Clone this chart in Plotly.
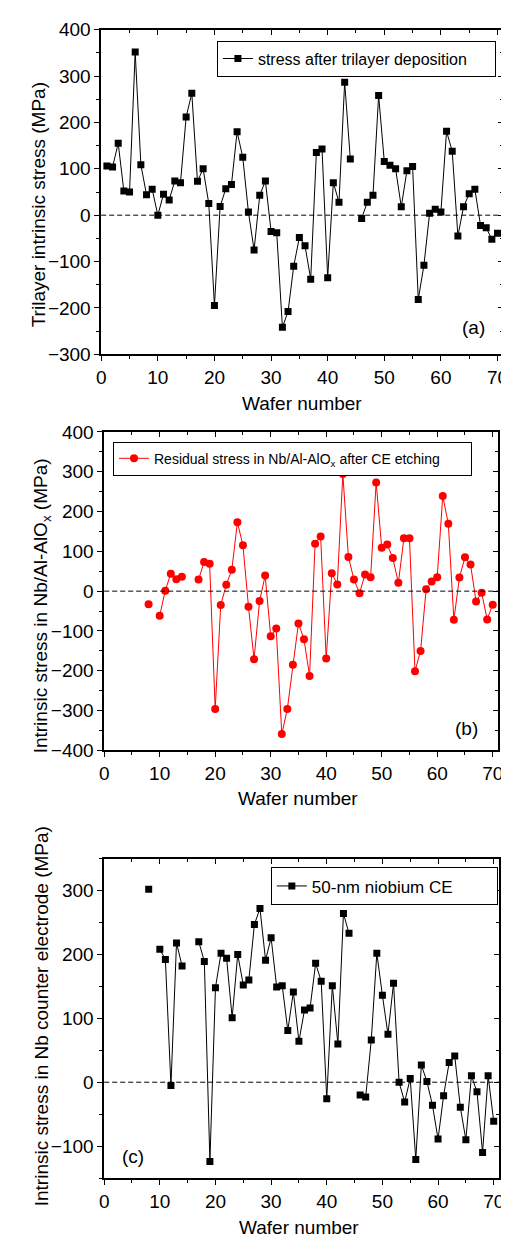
import plotly.graph_objects as go

W, H = 509, 1243
FONT = "Liberation Sans, Arial, sans-serif"

# ---------------- data ----------------
wafer = list(range(1, 71))

stress_trilayer = [106, 104, 155, 52, 50, 352, 109, 44, 56, 0,
                   45, 33, 74, 70, 212, 263, 73, 100, 25, -195,
                   19, 57, 66, 180, 125, 7, -75, 43, 74, -35,
                   -38, -242, -208, -110, -48, -66, -138, 135, 143, -135,
                   70, 28, 287, 121, None, -7, 28, 43, 258, 116,
                   108, 100, 18, 96, 105, -182, -108, 4, 13, 7,
                   181, 138, -45, 18, 46, 56, -22, -27, -52, -39]

stress_residual = [None, None, None, None, None, None, None, -33, None, -62,
                   1, 44, 30, 36, None, None, 29, 73, 69, -296,
                   -35, 16, 54, 173, 115, -39, -171, -25, 39, -113,
                   -94, -359, -296, -185, -81, -121, -213, 119, 137, -169,
                   45, 17, 294, 86, 29, -5, 42, 35, 273, 109,
                   117, 83, 21, 133, 133, -201, -150, 5, 24, 35,
                   239, 169, -72, 34, 85, 67, -26, -4, -71, -34]

stress_ce = [None, None, None, None, None, None, None, 302, None, 208,
             192, -5, 218, 182, None, None, 220, 189, -124, 148,
             202, 194, 101, 200, 152, 160, 247, 272, 191, 226,
             149, 151, 81, 141, 64, 113, 116, 186, 158, -26,
             151, 60, 264, 233, None, -20, -23, 66, 202, 136,
             75, 155, 0, -31, 6, -121, 27, 1, -36, -89,
             -21, 31, 41, -39, -90, 10, -15, -110, 10, -61]

x_ticks = [0, 10, 20, 30, 40, 50, 60, 70]
y_ticks_a = [-300, -200, -100, 0, 100, 200, 300, 400]
y_ticks_b = [-400, -300, -200, -100, 0, 100, 200, 300, 400]
y_ticks_c = [-100, 0, 100, 200, 300]

name_a = "stress after trilayer deposition"
name_b = "Residual stress in Nb/Al-AlO<sub>x</sub> after CE etching"
name_c = "50-nm niobium CE"
ytitle_a = "Trilayer intrinsic stress (MPa)"
ytitle_b = "Intrinsic stress in Nb/Al-AlO<sub>x</sub> (MPa)"
ytitle_c = "Intrinsic stress in Nb counter electrode (MPa)"
xtitle = "Wafer number"
labels = ["(a)", "(b)", "(c)"]

# ---------------- layout geometry (pixels) ----------------
panels = [
    dict(l=90, r=500, t=12, b=342, yr=[-300, 400], yt=y_ticks_a),
    dict(l=93, r=495, t=421, b=745, yr=[-400, 400], yt=y_ticks_b),
    dict(l=93, r=496, t=855, b=1180, yr=[-150, 350], yt=y_ticks_c),
]
XR = [0, 71]

fig = go.Figure()

series = [
    (stress_trilayer, name_a, "black", "square", 7, "legend"),
    (stress_residual, name_b, "red", "circle", 8, "legend2"),
    (stress_ce, name_c, "black", "square", 7, "legend3"),
]
for i, (vals, nm, col, sym, ms, lg) in enumerate(series):
    k = "" if i == 0 else str(i + 1)
    fig.add_trace(go.Scatter(
        x=wafer, y=vals, name=nm, mode="lines+markers",
        line=dict(color=col, width=1),
        marker=dict(symbol=sym, size=ms, color=col),
        connectgaps=False,
        xaxis="x" + k, yaxis="y" + k, legend=lg, showlegend=True,
    ))

axis_common = dict(showgrid=False, zeroline=False, color="black",
                   tickfont=dict(family=FONT, size=19, color="black"))

for i, p in enumerate(panels):
    k = "" if i == 0 else str(i + 1)
    ko = str(i + 4)
    xd = [p["l"] / W, p["r"] / W]
    yd = [1 - p["b"] / H, 1 - p["t"] / H]
    fig.layout["xaxis" + k] = dict(
        domain=xd, range=XR, anchor="y" + k, tickvals=x_ticks,
        ticks="outside", ticklen=5, tickwidth=1, tickcolor="black",
        minor=dict(tickvals=[5, 15, 25, 35, 45, 55, 65], ticks="outside",
                   ticklen=3, tickcolor="black", tickwidth=1),
        showline=True, linecolor="black", linewidth=1.5, mirror=True,
        **axis_common)
    fig.layout["yaxis" + k] = dict(
        domain=yd, range=p["yr"], anchor="x" + k, tickvals=p["yt"],
        ticks="outside", ticklen=5, tickwidth=1, tickcolor="black",
        minor=dict(dtick=50, tick0=0, ticks="outside", ticklen=3,
                   tickcolor="black", tickwidth=1),
        showline=True, linecolor="black", linewidth=1.5, mirror=True,
        **axis_common)
    # inward ticks on top and right
    fig.layout["xaxis" + ko] = dict(
        overlaying="x" + k, side="top", anchor="y" + k, range=XR,
        tickvals=x_ticks, ticks="inside", ticklen=5, tickcolor="black",
        minor=dict(tickvals=[5, 15, 25, 35, 45, 55, 65], ticks="inside",
                   ticklen=3, tickcolor="black"),
        showticklabels=False, showline=False, showgrid=False, zeroline=False)
    fig.layout["yaxis" + ko] = dict(
        overlaying="y" + k, side="right", anchor="x" + k, range=p["yr"],
        tickvals=p["yt"], ticks="inside", ticklen=5, tickcolor="black",
        minor=dict(dtick=50, tick0=0, ticks="inside", ticklen=3,
                   tickcolor="black"),
        showticklabels=False, showline=False, showgrid=False, zeroline=False)
    fig.add_trace(go.Scatter(x=[], y=[], xaxis="x" + ko, yaxis="y" + ko,
                             showlegend=False, hoverinfo="skip"))
    # dashed zero line
    fig.add_shape(type="line", xref="x" + k + " domain", x0=0, x1=1,
                  yref="y" + k, y0=0, y1=0,
                  line=dict(color="black", width=1, dash="5px,3px"))

# axis titles as annotations
ytitles = [(ytitle_a, 26, 190), (ytitle_b, 29, 598), (ytitle_c, 29, 1015)]
for txt, xp, yp in ytitles:
    fig.add_annotation(text=txt, xref="paper", yref="paper",
                       x=xp / W, y=1 - yp / H, showarrow=False, textangle=-90,
                       xanchor="center", yanchor="middle",
                       font=dict(family=FONT, size=19, color="black"))
for (xp, yp) in [(295, 392), (291, 794), (292, 1230)]:
    fig.add_annotation(text=xtitle, xref="paper", yref="paper",
                       x=xp / W, y=1 - yp / H, showarrow=False,
                       xanchor="center", yanchor="middle",
                       font=dict(family=FONT, size=19, color="black"))
for txt, (xp, yp) in zip(labels, [(470, 315), (463, 723), (122, 1158)]):
    fig.add_annotation(text=txt, xref="paper", yref="paper",
                       x=xp / W, y=1 - yp / H, showarrow=False,
                       xanchor="center", yanchor="middle",
                       font=dict(family=FONT, size=19, color="black"))

leg_common = dict(xanchor="left", yanchor="top", bgcolor="white",
                  bordercolor="black", borderwidth=1, orientation="h",
                  entrywidthmode="pixels", tracegroupgap=0)
fig.update_layout(
    width=W, height=H, margin=dict(l=0, r=0, t=0, b=0),
    paper_bgcolor="white", plot_bgcolor="white",
    font=dict(family=FONT, size=16, color="black"),
    legend=dict(x=208 / W, y=1 - 23 / H, entrywidth=232,
                font=dict(family=FONT, size=16), **leg_common),
    legend2=dict(x=102 / W, y=1 - 431 / H, entrywidth=312,
                 font=dict(family=FONT, size=14), **leg_common),
    legend3=dict(x=263 / W, y=1 - 864 / H, entrywidth=180,
                 font=dict(family=FONT, size=17), **leg_common),
)

fig.write_html("out.html")
